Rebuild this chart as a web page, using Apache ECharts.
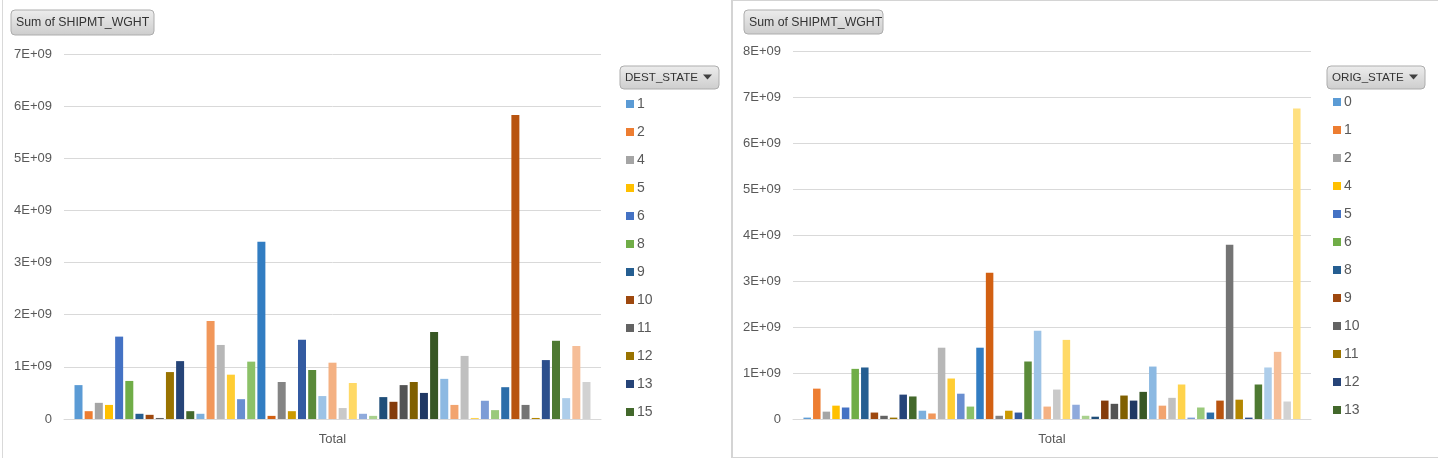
<!DOCTYPE html>
<html>
<head>
<meta charset="utf-8">
<script src="https://cdn.jsdelivr.net/npm/echarts@6/dist/echarts.min.js"></script>
<style>
  html, body { margin:0; padding:0; background:#fff; }
  body { width:1438px; height:458px; position:relative; overflow:hidden; }
  #left { position:absolute; left:0; top:0; width:731px; height:458px; }
  #right { position:absolute; left:731px; top:0; width:706px; height:456px;
           border-left:2px solid #D4D4D4; border-top:1px solid #D4D4D4; border-bottom:1px solid #D4D4D4; }
  #gridline { position:absolute; left:2px; top:0; width:1px; height:458px; background:#D9D9D9; }
</style>
</head>
<body>
<div id="gridline"></div>
<div id="left"></div>
<div id="right"></div>
<script>
// ---- data ----
const destStates = ['1','2','4','5','6','8','9','10','11','12','13','15','16','17','18','19','20','21','22','23','24','25','26','27','28','29','30','31','32','33','34','35','36','37','38','39','40','41','42','44','45','46','47','48','49','50','51','53','54','55','56'];
const destWeight = [6.5e8,1.5e8,3.1e8,2.7e8,1.58e9,7.3e8,1.0e8,8e7,2e7,9.0e8,1.11e9,1.5e8,1.0e8,1.88e9,1.42e9,8.5e8,3.8e8,1.10e9,3.40e9,6e7,7.1e8,1.5e8,1.52e9,9.4e8,4.4e8,1.08e9,2.1e8,6.9e8,1.0e8,6e7,4.2e8,3.3e8,6.5e8,7.1e8,5.0e8,1.67e9,7.7e8,2.7e8,1.21e9,2e7,3.5e8,1.7e8,6.1e8,5.83e9,2.7e8,2e7,1.13e9,1.50e9,4.0e8,1.40e9,7.1e8];
const origStates = ['0','1','2','4','5','6','8','9','10','11','12','13','15','16','17','18','19','20','21','22','23','24','25','26','27','28','29','30','31','32','33','34','35','36','37','38','39','40','41','42','44','45','46','47','48','49','50','51','53','54','55','56'];
const origWeight = [3e7,6.6e8,1.6e8,2.9e8,2.5e8,1.09e9,1.12e9,1.4e8,7e7,3e7,5.3e8,4.9e8,1.8e8,1.2e8,1.55e9,8.8e8,5.5e8,2.7e8,1.55e9,3.18e9,7e7,1.8e8,1.4e8,1.25e9,1.92e9,2.7e8,6.4e8,1.72e9,3.1e8,7e7,5e7,4.0e8,3.3e8,5.1e8,4.0e8,5.9e8,1.14e9,2.9e8,4.6e8,7.5e8,3e7,2.5e8,1.4e8,4.0e8,3.79e9,4.2e8,3e7,7.5e8,1.12e9,1.46e9,3.8e8,6.75e9];
const categories = ['Total'];
const leftAxisMax = 7e9, rightAxisMax = 8e9, axisStep = 1e9;
const legendShown = 12;

// ---- Excel-like palette (accent colours with luminance variations) ----
const accents = ['#5B9BD5','#ED7D31','#A5A5A5','#FFC000','#4472C4','#70AD47'];
const variations = [[1,0],[0.6,0],[0.8,0.2],[0.8,0],[0.6,0.4],[0.5,0],[0.7,0.3],[0.7,0],[0.5,0.5]];
function hexToHsl(hex){
  const r=parseInt(hex.substr(1,2),16)/255,g=parseInt(hex.substr(3,2),16)/255,b=parseInt(hex.substr(5,2),16)/255;
  const mx=Math.max(r,g,b),mn=Math.min(r,g,b);let h=0,s=0;const l=(mx+mn)/2;const d=mx-mn;
  if(d>0){ s = l>0.5 ? d/(2-mx-mn) : d/(mx+mn);
    if(mx===r) h=((g-b)/d+(g<b?6:0)); else if(mx===g) h=(b-r)/d+2; else h=(r-g)/d+4; h*=60; }
  return [h,s,l];
}
function hslToHex(h,s,l){
  const c=(1-Math.abs(2*l-1))*s, x=c*(1-Math.abs((h/60)%2-1)), m=l-c/2;
  let r,g,b;
  if(h<60){r=c;g=x;b=0}else if(h<120){r=x;g=c;b=0}else if(h<180){r=0;g=c;b=x}
  else if(h<240){r=0;g=x;b=c}else if(h<300){r=x;g=0;b=c}else{r=c;g=0;b=x}
  const t=v=>Math.round((v+m)*255).toString(16).padStart(2,'0');
  return '#'+t(r)+t(g)+t(b);
}
const palette=[];
variations.forEach(([mod,off])=>accents.forEach(a=>{const [h,s,l]=hexToHsl(a);palette.push(hslToHex(h,s,Math.min(1,l*mod+off)));}));

const FONT = 'Liberation Sans';
function yFmt(v){ return v===0 ? '0' : (v/1e9)+'E+09'; }

function button(x,y,w,h,text,withArrow,fs){
  const children=[
    {type:'rect',shape:{x:0,y:0,width:w,height:h,r:4},
     style:{fill:new echarts.graphic.LinearGradient(0,0,0,1,[{offset:0,color:'#EDEDED'},{offset:1,color:'#CDCDCD'}]),stroke:'#ADADAD',lineWidth:1}},
    {type:'text',style:{x:5,y:h/2+0.5,text:text,fill:'#333333',font:fs+'px "'+FONT+'"',textVerticalAlign:'middle'}}
  ];
  if(withArrow){
    children.push({type:'polygon',shape:{points:[[w-16,h/2-3],[w-7,h/2-3],[w-11.5,h/2+2]]},style:{fill:'#404040'}});
  }
  return {type:'group',x:x,y:y,children:children};
}

function makeOption(names, values, prefix, grid, barWidth, barGap, axisMax, legendPos, btnSum, btnLegend, legendTitle){
  const series = names.map((n,i)=>({
    name: prefix+n, type:'bar', data:[values[i]], barWidth:barWidth, barGap:barGap,
    itemStyle:{color:palette[i]}, emphasis:{disabled:true}
  }));
  return {
    animation:false,
    textStyle:{fontFamily:FONT},
    grid:grid,
    xAxis:{type:'category',data:categories,
      axisLine:{lineStyle:{color:'#D9D9D9',width:1}},axisTick:{show:false},
      axisLabel:{color:'#595959',fontSize:13,margin:14,fontFamily:FONT}},
    yAxis:{type:'value',min:0,max:axisMax,interval:axisStep,
      axisLine:{show:false},axisTick:{show:false},
      splitLine:{lineStyle:{color:'#D9D9D9',width:1}},
      axisLabel:{color:'#595959',fontSize:13,margin:12,formatter:yFmt,fontFamily:FONT}},
    legend:{orient:'vertical',left:legendPos[0],top:legendPos[1],padding:0,
      data:names.slice(0,legendShown).map(n=>prefix+n),
      icon:'rect',itemWidth:8,itemHeight:8,itemGap:12,selectedMode:false,
      formatter:nm=>nm.substring(prefix.length),
      textStyle:{color:'#595959',fontSize:14,lineHeight:16,fontFamily:FONT,padding:[0,0,0,-2]}},
    graphic:[button(btnSum[0],btnSum[1],btnSum[2],btnSum[3],'Sum of SHIPMT_WGHT',false,12.3),
             button(btnLegend[0],btnLegend[1],btnLegend[2],btnLegend[3],legendTitle,true,11.6)],
    series:series
  };
}

const leftChart = echarts.init(document.getElementById('left'),null,{renderer:'canvas'});
leftChart.setOption(makeOption(destStates,destWeight,'D',
  {left:64,right:130,top:54,bottom:39},8,'27%',leftAxisMax,[626,96],[11,10,143,25],[620,66,99,23],'DEST_STATE'));

const rightChart = echarts.init(document.getElementById('right'),null,{renderer:'canvas'});
rightChart.setOption(makeOption(origStates,origWeight,'O',
  {left:60,right:128,top:50,bottom:38},7.5,'28%',rightAxisMax,[600,93],[11,9,139,24],[594,65,98,23],'ORIG_STATE'));
</script>
</body>
</html>
